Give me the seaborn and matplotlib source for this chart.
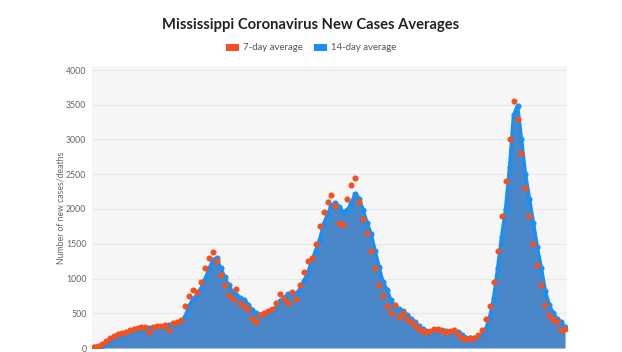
import numpy as np
import pandas as pd
import matplotlib
matplotlib.use("Agg")
import matplotlib.pyplot as plt
import seaborn as sns
from matplotlib.patches import Patch

avg14 = [10, 15, 25, 60, 100, 130, 155, 180, 200, 225,
         245, 260, 275, 285, 290, 290, 295, 300, 310, 325,
         340, 355, 370, 450, 600, 700, 760, 850, 980, 1130,
         1260, 1290, 1150, 1020, 900, 810, 760, 720, 690, 620,
         540, 500, 480, 490, 505, 520, 580, 670, 720, 770,
         790, 780, 840, 960, 1080, 1250, 1400, 1550, 1780, 1920,
         2050, 2080, 2030, 1950, 1980, 2080, 2220, 2150, 1980, 1800,
         1640, 1400, 1170, 950, 840, 690, 600, 560, 530, 480,
         420, 370, 310, 270, 240, 230, 240, 260, 255, 240,
         235, 240, 230, 190, 150, 140, 145, 150, 190, 270,
         450, 720, 1150, 1600, 2000, 2600, 3350, 3480, 3000, 2500,
         2150, 1800, 1450, 1150, 820, 620, 500, 420, 370, 300]

avg7 = [15, 30, 60, 100, 140, 170, 195, 215, 235, 255,
        270, 285, 295, 300, 230, 300, 310, 315, 330, 260,
        360, 380, 400, 600, 750, 830, 800, 950, 1150, 1300,
        1380, 1250, 1050, 900, 760, 700, 850, 650, 600, 560,
        430, 380, 470, 500, 530, 560, 650, 780, 700, 650,
        810, 700, 900, 1100, 1250, 1300, 1500, 1750, 1950, 2100,
        2200, 2050, 1800, 1770, 2150, 2350, 2450, 2100, 1850, 1650,
        1400, 1150, 900, 750, 600, 500, 620, 450, 500, 420,
        380, 330, 270, 250, 230, 240, 270, 280, 250, 230,
        240, 260, 200, 150, 130, 140, 150, 180, 260, 420,
        600, 950, 1400, 1900, 2400, 3000, 3550, 3300, 2800, 2300,
        1900, 1500, 1200, 900, 620, 480, 420, 380, 260, 280]

yticks = [0, 500, 1000, 1500, 2000, 2500, 3000, 3500, 4000]

df = pd.DataFrame({"day": np.arange(len(avg14)), "avg14": avg14, "avg7": avg7})

ORANGE = "#f4511e"
BLUE = "#1e8fef"
FILL = "#4a87c9"

sns.set_theme(style="white")
plt.rcParams["font.family"] = ["Lato", "DejaVu Sans"]

fig = plt.figure(figsize=(6.22, 3.52), dpi=100)
ax = fig.add_axes([92 / 622, 1 - 348 / 352, (567 - 92) / 622, (348 - 66) / 352])
ax.set_facecolor("#f6f6f6")

ax.fill_between(df["day"], 0, df["avg14"], color=FILL, linewidth=0, zorder=2)
sns.lineplot(data=df, x="day", y="avg14", ax=ax, color=BLUE, linewidth=2.6,
             marker="o", markersize=4.4, markeredgewidth=0, zorder=3)
sns.lineplot(data=df, x="day", y="avg7", ax=ax, color=ORANGE, linewidth=0,
             marker="o", markersize=4.4, markeredgewidth=0, zorder=4)

ax.set_xlim(-0.5, len(avg14) - 0.5)
ax.set_ylim(0, 4000 * (348 - 66) / (348 - 70))
ax.set_yticks(yticks)
ax.set_yticklabels([str(v) for v in yticks], fontsize=6.3, color="#666666")
ax.tick_params(axis="y", length=0, pad=4)
ax.set_xticks([])
ax.set_xlabel("")
ax.set_ylabel("Number of new cases/deaths", fontsize=6.2, color="#666666")
ax.yaxis.set_label_coords((65 - 92) / 475, (348 - 208) / (348 - 66))
ax.grid(axis="y", color="#e8e8e8", linewidth=0.8, zorder=0)
ax.set_axisbelow(True)
for s in ax.spines.values():
    s.set_visible(False)

fig.text(0.5, 1 - 25 / 352, "Mississippi Coronavirus New Cases Averages",
         ha="center", va="center", fontsize=10.6, fontweight="bold", color="#222222")

handles = [Patch(facecolor=ORANGE, edgecolor="none", label="7-day average"),
           Patch(facecolor="#1a8cff", edgecolor="none", label="14-day average")]
fig.legend(handles=handles, loc="center", bbox_to_anchor=(0.5, 1 - 48 / 352),
           ncol=2, frameon=False, fontsize=6.9, handlelength=1.4, handleheight=0.8,
           columnspacing=1.1, handletextpad=0.4, labelcolor="#555555")

fig.savefig("out.png", dpi=100)
